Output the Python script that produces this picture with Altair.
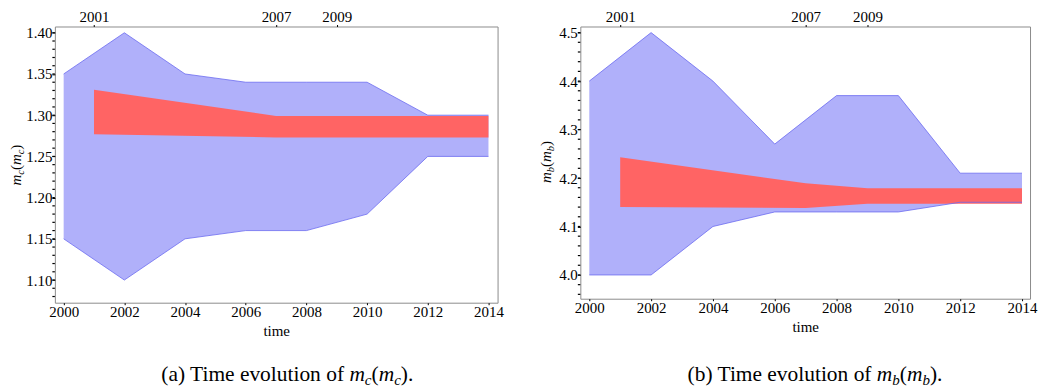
import altair as alt
import pandas as pd

# ---------------- data ----------------
years_band = [2000, 2002, 2004, 2006, 2008, 2010, 2012, 2014]
mc_band_upper = [1.35, 1.40, 1.35, 1.34, 1.34, 1.34, 1.30, 1.30]
mc_band_lower = [1.15, 1.10, 1.15, 1.16, 1.16, 1.18, 1.25, 1.25]
mb_band_upper = [4.40, 4.50, 4.40, 4.27, 4.37, 4.37, 4.21, 4.21]
mb_band_lower = [4.00, 4.00, 4.10, 4.13, 4.13, 4.13, 4.15, 4.15]

years_fit = [2001, 2007, 2009, 2014]
mc_fit_upper = [1.331, 1.299, 1.299, 1.299]
mc_fit_lower = [1.277, 1.273, 1.273, 1.273]
mb_fit_upper = [4.243, 4.189, 4.179, 4.179]
mb_fit_lower = [4.140, 4.138, 4.147, 4.147]

bottom_ticks = [2000, 2002, 2004, 2006, 2008, 2010, 2012, 2014]
top_ticks = [2001, 2007, 2009]
mc_ticks = [1.10, 1.15, 1.20, 1.25, 1.30, 1.35, 1.40]
mb_ticks = [4.0, 4.1, 4.2, 4.3, 4.4, 4.5]
mc_minor = [round(1.08 + 0.01 * i, 2) for i in range(33)]
mb_minor = [round(3.96 + 0.02 * i, 2) for i in range(28)]

# ---------------- style ----------------
FONT = "Liberation Serif"
BLUE_FILL = "#b0b0fa"
BLUE_LINE = "#6c6cf0"
RED = "#ff6464"
ONE = pd.DataFrame({"k": [0]})
CAP = 21.5

EM = {("(", False): 0.333, (")", False): 0.333, (".", False): 0.25,
      ("m", True): 0.722, ("c", True): 0.444, ("b", True): 0.5}

AXIS_STYLE = dict(labelFont=FONT, labelFontSize=15, labelColor="black",
                  titleFont=FONT, titleFontSize=15, titleFontWeight="normal",
                  titleColor="black", tickColor="black", tickWidth=1, ticks=True,
                  domain=False, grid=False)


def rich(pieces, x, y, angle=0):
    """Sequence of text pieces (text, size, italic, subscript shift)."""
    layers = []
    for text, size, italic, sub in pieces:
        if angle == 0:
            px, py = x, y + sub
        else:
            px, py = x + sub, y
        layers.append(
            alt.Chart(ONE).mark_text(
                text=text, font=FONT, fontSize=size,
                fontStyle="italic" if italic else "normal",
                align="left", baseline="alphabetic", angle=angle, color="black",
            ).encode(x=alt.value(px), y=alt.value(py))
        )
        w = sum(EM[(ch, italic)] for ch in text) * size
        if angle == 0:
            x += w
        else:
            y -= w
    return layers


def title_pieces(sub):
    return [("m", 15, True, 0), (sub, 10.5, True, 3), ("(", 15, False, 0),
            ("m", 15, True, 0), (sub, 10.5, True, 3), (")", 15, False, 0)]


def caption_pieces(sub):
    s = CAP * 0.7
    return [("m", CAP, True, 0), (sub, s, True, 4), ("(", CAP, False, 0),
            ("m", CAP, True, 0), (sub, s, True, 4), (").", CAP, False, 0)]


def panel(upper, lower, fup, flo, xdom, ydom, w, h, major, minor, yfmt,
          sub, tx, ty, cap_label, cap_right, cap_y):
    band = pd.DataFrame({"year": years_band, "upper": upper, "lower": lower})
    fit = pd.DataFrame({"year": years_fit, "upper": fup, "lower": flo})
    minor_df = pd.DataFrame({"v": minor})
    xs = alt.Scale(domain=xdom, nice=False, zero=False)
    ys = alt.Scale(domain=ydom, nice=False, zero=False)

    area = alt.Chart(band).mark_area(color=BLUE_FILL, opacity=1).encode(
        x=alt.X("year:Q", scale=xs,
                axis=alt.Axis(orient="bottom", values=bottom_ticks, format="d",
                              title="time", tickSize=2, labelPadding=0,
                              titlePadding=4, **AXIS_STYLE)),
        y=alt.Y("lower:Q", scale=ys,
                axis=alt.Axis(orient="left", values=major, format=yfmt, title=None,
                              tickSize=3, labelPadding=0, **AXIS_STYLE)),
        y2="upper:Q",
    )
    fit_area = alt.Chart(fit).mark_area(color=RED, opacity=1).encode(
        x=alt.X("year:Q", scale=xs,
                axis=alt.Axis(orient="top", values=top_ticks, format="d", title=None,
                              tickSize=2, labelPadding=0, **AXIS_STYLE)),
        y=alt.Y("lower:Q", scale=ys, axis=None),
        y2="upper:Q",
    )
    line_up = alt.Chart(band).mark_line(color=BLUE_LINE, strokeWidth=0.8).encode(
        x=alt.X("year:Q", scale=xs, axis=None),
        y=alt.Y("upper:Q", scale=ys, axis=None),
    )
    line_lo = alt.Chart(band).mark_line(color=BLUE_LINE, strokeWidth=0.8).encode(
        x=alt.X("year:Q", scale=xs, axis=None),
        y=alt.Y("lower:Q", scale=ys, axis=None),
    )
    # minor ticks along the left frame (dotted look)
    minor_ticks = alt.Chart(minor_df).mark_rule(
        color="black", strokeWidth=1.2
    ).encode(
        y=alt.Y("v:Q", scale=ys, axis=None),
        x=alt.value(-2.5),
        x2=alt.value(0),
    )
    texts = rich(title_pieces(sub), tx, ty, angle=270)
    cap_first = alt.Chart(ONE).mark_text(
        text=cap_label, font=FONT, fontSize=CAP, align="right", baseline="alphabetic",
        color="black",
    ).encode(x=alt.value(cap_right), y=alt.value(cap_y))
    texts += [cap_first] + rich(caption_pieces(sub), cap_right + 0.25 * CAP, cap_y)

    return alt.layer(area, fit_area, line_up, line_lo, minor_ticks, *texts).resolve_axis(
        x="independent", y="independent"
    ).properties(width=w, height=h)


left = panel(mc_band_upper, mc_band_lower, mc_fit_upper, mc_fit_lower,
             [1999.71, 2014.3], [1.0725, 1.4076], 444, 277, mc_ticks, mc_minor, ".2f",
             "c", -34, 159.5, "(a) Time evolution of", 290, 356)
right = panel(mb_band_upper, mb_band_lower, mb_fit_upper, mb_fit_lower,
              [1999.71, 2014.26], [3.951, 4.5126], 451, 273, mb_ticks, mb_minor, ".1f",
              "b", -29, 157, "(b) Time evolution of", 292, 356)

chart = alt.hconcat(left, right, spacing=83, bounds="flush").properties(
    padding={"left": 0, "top": 0, "right": 0, "bottom": 0}
).configure_view(stroke="#8c8c8c", strokeWidth=1).configure_axis(
    labelFont=FONT, labelFontSize=15, labelColor="black",
    titleFont=FONT, titleFontSize=15, titleFontWeight="normal", titleColor="black",
    tickColor="black", domain=False, grid=False,
)

chart.save("out.html", embed_options={"renderer": "svg", "actions": False})
